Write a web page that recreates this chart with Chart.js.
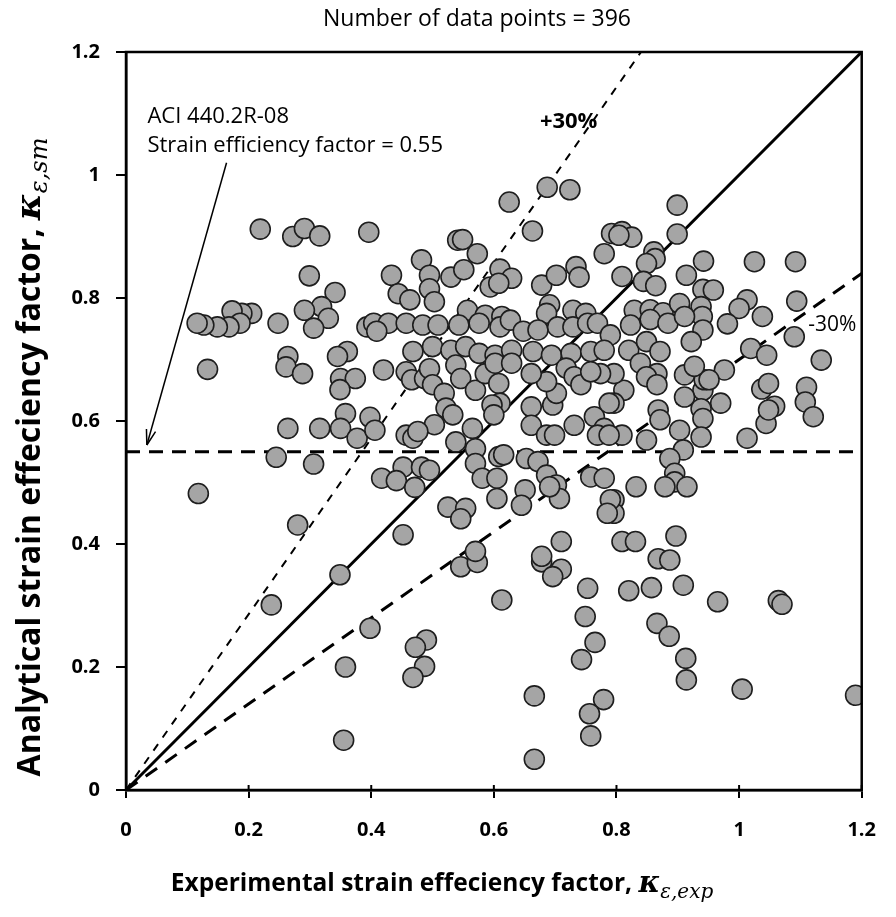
<!DOCTYPE html>
<html>
<head>
<meta charset="utf-8">
<script src="https://cdn.jsdelivr.net/npm/chart.js@4.4.1/dist/chart.umd.min.js"></script>
<style>
  html, body { margin: 0; padding: 0; background: #fff; }
</style>
</head>
<body>
<canvas id="chart" width="896" height="917"></canvas>
<script>
"use strict";

// experimental (x) and analytical (y) strain efficiency factors
const expX = [
  0.219, 0.272, 0.291, 0.316, 0.396, 0.299, 0.341, 0.319, 0.291, 0.330, 0.306, 0.393, 0.248,
  0.205, 0.189, 0.173, 0.186, 0.168, 0.149, 0.127, 0.116, 0.361, 0.345, 0.264,
  0.133, 0.261, 0.288, 0.350, 0.374, 0.349, 0.358, 0.398, 0.264, 0.316, 0.350, 0.377, 0.245,
  0.306, 0.118, 0.280, 0.349, 0.237, 0.358, 0.355, 0.398,
  0.625, 0.687, 0.724, 0.663, 0.541, 0.549, 0.573, 0.780, 0.792, 0.482, 0.433, 0.495, 0.530,
  0.551, 0.610, 0.629, 0.594, 0.608, 0.678, 0.702, 0.734, 0.739, 0.444, 0.463, 0.495, 0.503,
  0.691, 0.686, 0.729, 0.750, 0.557, 0.586, 0.613,
  0.404, 0.428, 0.457, 0.484, 0.509, 0.543, 0.576, 0.610, 0.627, 0.648, 0.672, 0.704, 0.729,
  0.753, 0.769, 0.790, 0.409,
  0.468, 0.500, 0.530, 0.554, 0.576, 0.602, 0.629, 0.664, 0.694, 0.726, 0.758, 0.780,
  0.899, 0.899, 0.809, 0.825, 0.804, 0.861, 0.863, 0.849, 0.942, 1.025, 1.092, 0.914, 0.809,
  0.844, 0.864, 0.941, 0.958, 1.094, 1.013, 1.000, 1.038, 0.981,
  0.829, 0.855, 0.876, 0.903, 0.938, 0.940, 0.823, 0.855, 0.884, 0.911, 0.941, 1.090, 0.922,
  0.820, 0.849, 0.871, 1.019, 1.045, 1.134,
  1.037, 1.048, 1.058, 1.044, 1.048, 1.110, 1.108, 1.121, 1.013, 0.976, 0.970,
  0.941, 0.943, 0.951, 0.911, 0.927, 0.911, 0.938, 0.941, 0.938, 0.903, 0.909, 0.868, 0.871,
  0.849, 0.809, 0.812, 0.796, 0.796, 0.839, 0.866, 0.849, 0.866,
  0.887, 0.895, 0.895, 0.879, 0.915, 0.832, 0.796, 0.796, 0.809, 0.831, 0.897, 0.868, 0.887,
  0.820, 0.857, 0.909, 0.965, 1.064, 1.070, 0.866, 0.886, 0.913, 0.914, 1.005, 1.190,
  0.546, 0.573, 0.613, 0.490, 0.472, 0.487, 0.468, 0.678, 0.710, 0.696, 0.753, 0.749, 0.765,
  0.743, 0.666, 0.779, 0.756, 0.758, 0.666,
  0.420, 0.457, 0.466, 0.487, 0.495, 0.500, 0.538, 0.546, 0.570, 0.586, 0.602, 0.608, 0.629,
  0.610, 0.597, 0.600, 0.519, 0.522, 0.533, 0.503, 0.406, 0.457, 0.468, 0.476, 0.538, 0.565,
  0.570, 0.570, 0.581, 0.608, 0.616, 0.653, 0.672, 0.452, 0.482, 0.495, 0.417, 0.441, 0.471,
  0.605, 0.605, 0.651, 0.645, 0.686, 0.702, 0.707, 0.691, 0.661, 0.661, 0.686, 0.699,
  0.696, 0.702, 0.686, 0.718, 0.731, 0.742, 0.661, 0.731, 0.764, 0.780, 0.769, 0.788,
  0.788, 0.774, 0.758, 0.758, 0.780, 0.790, 0.785, 0.525, 0.554, 0.546, 0.452, 0.710, 0.678,
  0.570
];
const anaY = [
  0.912, 0.900, 0.913, 0.901, 0.907, 0.836, 0.809, 0.786, 0.780, 0.767, 0.751, 0.753, 0.759,
  0.775, 0.775, 0.779, 0.759, 0.753, 0.753, 0.756, 0.759, 0.713, 0.705, 0.705,
  0.684, 0.688, 0.677, 0.669, 0.669, 0.651, 0.612, 0.606, 0.588, 0.588, 0.588, 0.572, 0.541,
  0.530, 0.482, 0.431, 0.350, 0.301, 0.200, 0.081, 0.263,
  0.956, 0.980, 0.976, 0.909, 0.894, 0.895, 0.872, 0.872, 0.905, 0.862, 0.837, 0.837, 0.834,
  0.846, 0.847, 0.832, 0.818, 0.824, 0.821, 0.837, 0.851, 0.834, 0.807, 0.797, 0.815, 0.794,
  0.789, 0.775, 0.780, 0.775, 0.780, 0.772, 0.770,
  0.759, 0.759, 0.759, 0.756, 0.756, 0.756, 0.759, 0.753, 0.764, 0.746, 0.748, 0.753, 0.753,
  0.759, 0.759, 0.740, 0.746,
  0.713, 0.721, 0.715, 0.721, 0.710, 0.707, 0.715, 0.713, 0.707, 0.710, 0.713, 0.715,
  0.951, 0.904, 0.908, 0.899, 0.902, 0.875, 0.864, 0.856, 0.860, 0.859, 0.859, 0.837, 0.835,
  0.827, 0.820, 0.814, 0.813, 0.795, 0.797, 0.783, 0.770, 0.758,
  0.780, 0.781, 0.776, 0.791, 0.786, 0.770, 0.756, 0.765, 0.759, 0.770, 0.748, 0.737, 0.729,
  0.715, 0.729, 0.713, 0.718, 0.707, 0.699,
  0.652, 0.661, 0.624, 0.596, 0.618, 0.655, 0.631, 0.607, 0.572, 0.683, 0.629,
  0.650, 0.667, 0.667, 0.675, 0.689, 0.639, 0.620, 0.604, 0.574, 0.585, 0.553, 0.618, 0.602,
  0.569, 0.577, 0.650, 0.629, 0.677, 0.694, 0.677, 0.672, 0.659,
  0.539, 0.515, 0.501, 0.493, 0.493, 0.493, 0.472, 0.450, 0.404, 0.404, 0.413, 0.376, 0.374,
  0.324, 0.329, 0.333, 0.306, 0.308, 0.302, 0.271, 0.250, 0.214, 0.179, 0.164, 0.154,
  0.363, 0.370, 0.309, 0.244, 0.232, 0.201, 0.183, 0.371, 0.359, 0.347, 0.328, 0.282, 0.240,
  0.212, 0.153, 0.147, 0.124, 0.088, 0.050,
  0.683, 0.680, 0.667, 0.669, 0.685, 0.659, 0.691, 0.669, 0.650, 0.677, 0.694, 0.661, 0.694,
  0.629, 0.626, 0.610, 0.645, 0.621, 0.610, 0.594, 0.585, 0.577, 0.572, 0.583, 0.566, 0.588,
  0.555, 0.531, 0.507, 0.542, 0.545, 0.539, 0.534, 0.525, 0.525, 0.520, 0.507, 0.503, 0.492,
  0.507, 0.474, 0.488, 0.463, 0.512, 0.496, 0.474, 0.493, 0.623, 0.593, 0.577, 0.577,
  0.626, 0.645, 0.664, 0.686, 0.672, 0.659, 0.677, 0.593, 0.607, 0.588, 0.577, 0.577,
  0.629, 0.677, 0.680, 0.509, 0.507, 0.472, 0.450, 0.460, 0.458, 0.441, 0.415, 0.404, 0.380,
  0.388
];

const designFactor = 0.55;   // ACI 440.2R-08 strain efficiency factor
const bandRatio = 0.7;       // +/-30% bounds
const axisMax = 1.2;

const points = expX.map((x, i) => ({ x: x, y: anaY[i] }));

const SANS = '"Open Sans", "Liberation Sans", sans-serif';
const SERIF = '"DejaVu Serif", "Liberation Serif", serif';

function drawRich(ctx, parts, cx, cy, angle) {
    ctx.save();
    ctx.translate(cx, cy);
    ctx.rotate(angle);
    let total = 0;
    parts.forEach(p => { ctx.font = p.font; total += ctx.measureText(p.text).width; });
    let x = -total / 2;
    ctx.textBaseline = 'middle';
    ctx.textAlign = 'left';
    ctx.fillStyle = '#000';
    parts.forEach(p => {
        ctx.font = p.font;
        ctx.fillText(p.text, x, p.dy || 0);
        x += ctx.measureText(p.text).width;
    });
    ctx.restore();
}

const annotations = {
    id: 'annotations',
    afterDatasetsDraw(chart) {
        const ctx = chart.ctx;
        const xs = chart.scales.x, ys = chart.scales.y;
        const area = chart.chartArea;

        // frame
        ctx.save();
        ctx.strokeStyle = '#000';
        ctx.lineWidth = 2.5;
        ctx.strokeRect(area.left, area.top, area.right - area.left, area.bottom - area.top);

        // x ticks poke a little inside the frame too
        ctx.lineWidth = 2;
        xs.ticks.forEach(t => {
            const px = xs.getPixelForValue(t.value);
            ctx.beginPath();
            ctx.moveTo(px, area.bottom);
            ctx.lineTo(px, area.bottom - 5);
            ctx.stroke();
        });

        // arrow to the design line
        const x0 = xs.getPixelForValue(0.164), y0 = ys.getPixelForValue(1.02);
        const x1 = xs.getPixelForValue(0.034), y1 = ys.getPixelForValue(0.561);
        ctx.lineWidth = 1.5;
        ctx.beginPath();
        ctx.moveTo(x0, y0);
        ctx.lineTo(x1, y1);
        ctx.stroke();
        const a = Math.atan2(y1 - y0, x1 - x0);
        ctx.beginPath();
        ctx.moveTo(x1, y1);
        ctx.lineTo(x1 - 16 * Math.cos(a - 0.3), y1 - 16 * Math.sin(a - 0.3));
        ctx.moveTo(x1, y1);
        ctx.lineTo(x1 - 16 * Math.cos(a + 0.3), y1 - 16 * Math.sin(a + 0.3));
        ctx.stroke();

        // texts
        ctx.fillStyle = '#000';
        ctx.textBaseline = 'middle';
        ctx.textAlign = 'left';
        ctx.font = '22px ' + SANS;
        ctx.fillText('ACI 440.2R-08', xs.getPixelForValue(0.035), ys.getPixelForValue(1.094));
        ctx.fillText('Strain efficiency factor = 0.55', xs.getPixelForValue(0.035), ys.getPixelForValue(1.047));
        ctx.textAlign = 'center';
        ctx.font = 'bold 22px ' + SANS;
        ctx.fillText('+30%', xs.getPixelForValue(0.722), ys.getPixelForValue(1.086));
        ctx.font = '21px ' + SANS;
        ctx.fillText('-30%', xs.getPixelForValue(1.152), ys.getPixelForValue(0.756));
        ctx.font = '23px ' + SANS;
        ctx.fillText('Number of data points = 396', 477, 19);
        ctx.restore();

        // axis titles with kappa subscripts
        drawRich(ctx, [
            { text: 'Experimental strain effeciency factor, ', font: 'bold 24.5px ' + SANS },
            { text: 'κ', font: 'italic bold 29px ' + SERIF },
            { text: 'ε,exp', font: 'italic 20px ' + SERIF, dy: 9 }
        ], 442, 884, 0);
        drawRich(ctx, [
            { text: 'Analytical strain effeciency factor, ', font: 'bold 32px ' + SANS },
            { text: 'κ', font: 'italic bold 36px ' + SERIF },
            { text: 'ε,sm', font: 'italic 24px ' + SERIF, dy: 10 }
        ], 31, 457, -Math.PI / 2);
    }
};

const tickFont = { family: SANS, size: 20, weight: 'bold' };

new Chart(document.getElementById('chart').getContext('2d'), {
    type: 'scatter',
    data: {
        datasets: [
            {
                label: 'Specimens',
                data: points,
                pointRadius: 10,
                pointHoverRadius: 10,
                backgroundColor: '#a5a5a5',
                borderColor: '#1e1e1e',
                borderWidth: 1.6,
                order: 0
            },
            {
                type: 'line',
                label: '1:1',
                data: [{ x: 0, y: 0 }, { x: axisMax, y: axisMax }],
                borderColor: '#000',
                borderWidth: 3,
                pointRadius: 0,
                order: 1
            },
            {
                type: 'line',
                label: '+30%',
                data: [{ x: 0, y: 0 }, { x: axisMax * bandRatio, y: axisMax }],
                borderColor: '#000',
                borderWidth: 2,
                borderDash: [8, 8],
                pointRadius: 0,
                order: 1
            },
            {
                type: 'line',
                label: '-30%',
                data: [{ x: 0, y: 0 }, { x: axisMax, y: axisMax * bandRatio }],
                borderColor: '#000',
                borderWidth: 3,
                borderDash: [14, 10],
                pointRadius: 0,
                order: 1
            },
            {
                type: 'line',
                label: 'ACI',
                data: [{ x: 0, y: designFactor }, { x: axisMax, y: designFactor }],
                borderColor: '#000',
                borderWidth: 3,
                borderDash: [14, 9],
                pointRadius: 0,
                order: 1
            }
        ]
    },
    options: {
        responsive: false,
        animation: false,
        layout: {
            padding: { top: 52, right: 26, left: 0, bottom: 0 }
        },
        plugins: {
            legend: { display: false },
            tooltip: { enabled: false }
        },
        scales: {
            x: {
                type: 'linear',
                min: 0,
                max: axisMax,
                afterFit: (s) => { s.height = 127; },
                border: { display: true, color: '#000', width: 2.5 },
                grid: { display: true, drawOnChartArea: false, drawTicks: true, tickLength: 8, color: '#000', lineWidth: 2 },
                ticks: {
                    stepSize: 0.2,
                    padding: 20,
                    color: '#000',
                    font: tickFont,
                    callback: (v) => String(Math.round(v * 10) / 10)
                }
            },
            y: {
                type: 'linear',
                min: 0,
                max: axisMax,
                afterFit: (s) => { s.width = 126; },
                border: { display: true, color: '#000', width: 2.5 },
                grid: { display: true, drawOnChartArea: false, drawTicks: true, tickLength: 10, color: '#000', lineWidth: 2 },
                ticks: {
                    stepSize: 0.2,
                    padding: 16,
                    color: '#000',
                    font: tickFont,
                    callback: (v) => String(Math.round(v * 10) / 10)
                }
            }
        }
    },
    plugins: [annotations]
});
</script>
</body>
</html>
